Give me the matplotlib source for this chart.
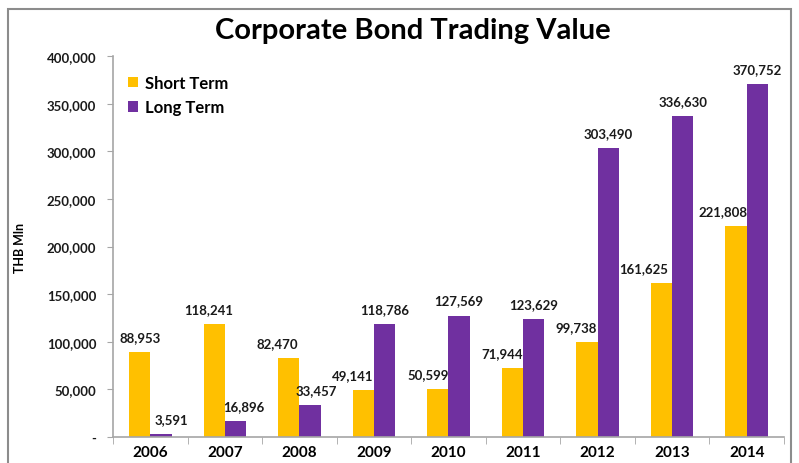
import numpy as np
from matplotlib import pyplot as plt
from matplotlib.patches import Rectangle
from matplotlib.ticker import FuncFormatter

years = ['2006', '2007', '2008', '2009', '2010', '2011', '2012', '2013', '2014']
short_term = [88953, 118241, 82470, 49141, 50599, 71944, 99738, 161625, 221808]
long_term = [3591, 16896, 33457, 118786, 127569, 123629, 303490, 336630, 370752]

# label nudges (pixels), where labels were dragged sideways
short_dx = [0, -6, -11, -11, -10, -10, -11, -18, -13]
long_dx = [11, 8, 6, 0, 0, 0, 0, 0, 0]

ORANGE = '#FFC000'
PURPLE = '#7030A0'
GREY = '#A6A6A6'

plt.rcParams['font.family'] = ['Lato', 'DejaVu Sans']
plt.rcParams['font.weight'] = 'bold'

fig = plt.figure(figsize=(7.99, 4.64), dpi=100)
ax = fig.add_axes([0.1414, 0.056, 0.8398, 0.821])

x = np.arange(len(years))
w = 0.285
b1 = ax.bar(x - w / 2, short_term, w, color=ORANGE, label='Short Term')
b2 = ax.bar(x + w / 2, long_term, w, color=PURPLE, label='Long Term')


def label_bars(bars, values, dxs):
    for bar, v, dx in zip(bars, values, dxs):
        ax.annotate('{:,}'.format(v), (bar.get_x() + bar.get_width() / 2, v),
                    xytext=(dx, 15), textcoords='offset pixels',
                    ha='center', va='center', fontsize=9.5, fontweight='bold', color='#1a1a1a')


label_bars(b1, short_term, short_dx)
label_bars(b2, long_term, long_dx)

ax.set_xlim(-0.5, len(years) - 0.5)
ax.set_ylim(0, 400000)
ax.set_yticks(np.arange(0, 400001, 50000))
ax.yaxis.set_major_formatter(FuncFormatter(lambda v, p: '-' if v == 0 else '{:,.0f}'.format(v)))
ax.set_xticks(x)
ax.set_xticklabels(years)
ax.set_xticks(np.arange(-0.5, len(years)), minor=True)
ax.tick_params(axis='x', which='major', length=0, pad=6, labelsize=11)
ax.tick_params(axis='x', which='minor', length=5, color=GREY, direction='out')
ax.tick_params(axis='y', length=4, color=GREY, pad=8, labelsize=9.5, labelcolor='#1a1a1a')
for lbl in ax.get_yticklabels() + ax.get_xticklabels():
    lbl.set_fontweight('bold')

for s in ['top', 'right']:
    ax.spines[s].set_visible(False)
for s in ['left', 'bottom']:
    ax.spines[s].set_color(GREY)
    ax.spines[s].set_linewidth(1.2)

ax.set_ylabel('THB Mln', fontsize=9, fontweight='bold')
ax.yaxis.set_label_coords(-0.13, 0.5)

leg = ax.legend(loc='upper left', bbox_to_anchor=(0.0, 0.99), frameon=False,
                prop={'size': 12, 'weight': 'bold'}, handlelength=0.6, handleheight=0.6,
                handletextpad=0.4, labelspacing=0.5)

fig.text(0.517, 0.933, 'Corporate Bond Trading Value', ha='center', va='center',
         fontsize=21, fontweight='bold')

fig.patches.append(Rectangle((0.010, -0.1), 0.980, 1.078, transform=fig.transFigure,
                             fill=False, edgecolor='#8c8c8c', linewidth=1.5))

plt.savefig('out.png', dpi=100)
